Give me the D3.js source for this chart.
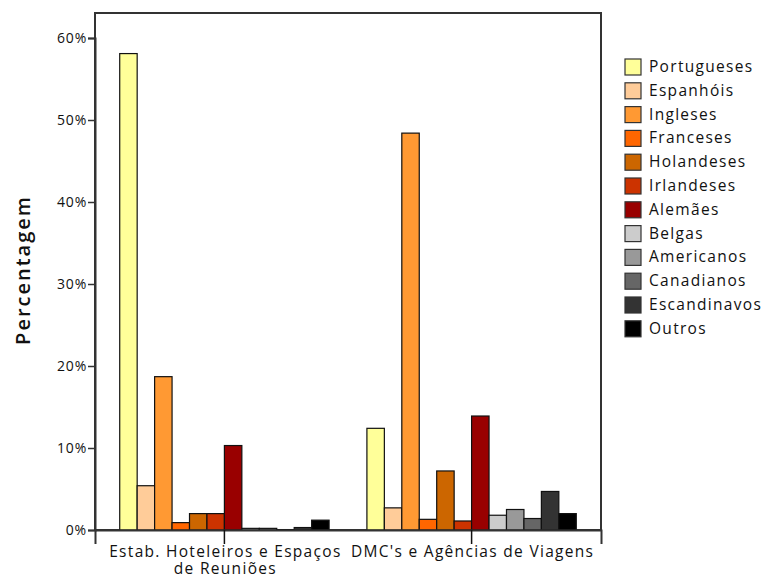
<!DOCTYPE html>
<html><head><meta charset="utf-8">
<script src="https://cdn.jsdelivr.net/npm/d3@7"></script>
<style>body{margin:0;background:#fff;} svg{display:block;} text{font-family:"Open Sans",sans-serif;fill:#111;}</style>
</head><body><svg id="c" width="764" height="580"></svg>
<script>
const categories = ["Estab. Hoteleiros e Espaços de Reuniões", "DMC's e Agências de Viagens"];
const categoryLines = [["Estab. Hoteleiros e Espaços", "de Reuniões"], ["DMC's e Agências de Viagens"]];
const series = ["Portugueses","Espanhóis","Ingleses","Franceses","Holandeses","Irlandeses","Alemães","Belgas","Americanos","Canadianos","Escandinavos","Outros"];
const colors = ["#ffff99","#ffcc99","#ff9933","#ff6600","#cc6600","#cc3300","#990000","#cccccc","#999999","#666666","#333333","#000000"];
const hoteis = [58.1, 5.4, 18.7, 0.9, 2.0, 2.0, 10.3, 0.2, 0.2, 0.05, 0.3, 1.2];
const dmc    = [12.4, 2.7, 48.4, 1.3, 7.2, 1.1, 13.9, 1.8, 2.5, 1.4, 4.7, 2.0];
const values = [hoteis, dmc];
const yTicks = [0,10,20,30,40,50,60];

const svg = d3.select("#c");
const L = 95, R = 601, T = 13, B = 530;
const y = d3.scaleLinear().domain([0, 60]).range([B, B - 6*82]);
const x0 = d3.scaleBand().domain(categories).range([L, R]).paddingInner(0.153).paddingOuter(0.1);
const x1 = d3.scaleBand().domain(series).range([0, x0.bandwidth()]).padding(0);

// frame
svg.append("rect").attr("x", L).attr("y", T).attr("width", R - L).attr("height", B - T)
  .attr("fill", "none").attr("stroke", "#333").attr("stroke-width", 2);

// bars
const g = svg.append("g");
categories.forEach((c, ci) => {
  g.selectAll(null).data(values[ci]).enter().append("rect")
    .attr("x", (d, i) => x0(c) + x1(series[i]))
    .attr("y", d => y(d))
    .attr("width", x1.bandwidth())
    .attr("height", d => B - y(d))
    .attr("fill", (d, i) => colors[i])
    .attr("stroke", "#111").attr("stroke-width", 1.2);
});

// y axis
const yAxis = d3.axisLeft(y).tickValues(yTicks).tickSize(7).tickFormat(d => d + "%");
const ya = svg.append("g").attr("transform", `translate(${L},0)`).call(yAxis);
ya.select(".domain").attr("stroke", "#333").attr("stroke-width", 2);
ya.selectAll(".tick line").attr("stroke", "#333").attr("stroke-width", 1.5);
ya.selectAll(".tick text").attr("font-size", 14).attr("font-family", "Open Sans").attr("fill", "#222")
  .attr("letter-spacing", 0.8).attr("x", -8);

// x axis
const xAxis = d3.axisBottom(x0).tickSize(14).tickFormat("");
const xa = svg.append("g").attr("transform", `translate(0,${B})`).call(xAxis);
xa.select(".domain").attr("stroke", "#333").attr("stroke-width", 2);
xa.selectAll(".tick line").attr("stroke", "#111").attr("stroke-width", 1.5);
categories.forEach((c, ci) => {
  categoryLines[ci].forEach((ln, li) => {
    svg.append("text").attr("x", x0(c) + x0.bandwidth() / 2 + 1).attr("y", 557 + li * 17)
      .attr("text-anchor", "middle").attr("font-size", 15.5).attr("letter-spacing", 1.3).text(ln);
  });
});

// y title
svg.append("text").attr("transform", "translate(30,270) rotate(-90)").attr("text-anchor", "middle")
  .attr("font-size", 20).attr("font-weight", 600).attr("letter-spacing", 2).text("Percentagem");

// legend
const lg = svg.append("g");
series.forEach((s, i) => {
  const yy = 59 + i * 23.8;
  lg.append("rect").attr("x", 625).attr("y", yy).attr("width", 16).attr("height", 16)
    .attr("fill", colors[i]).attr("stroke", "#333").attr("stroke-width", 1.2);
  lg.append("text").attr("x", 649).attr("y", yy + 13).attr("font-size", 15.5).attr("letter-spacing", 1.3).text(s);
});
</script></body></html>
